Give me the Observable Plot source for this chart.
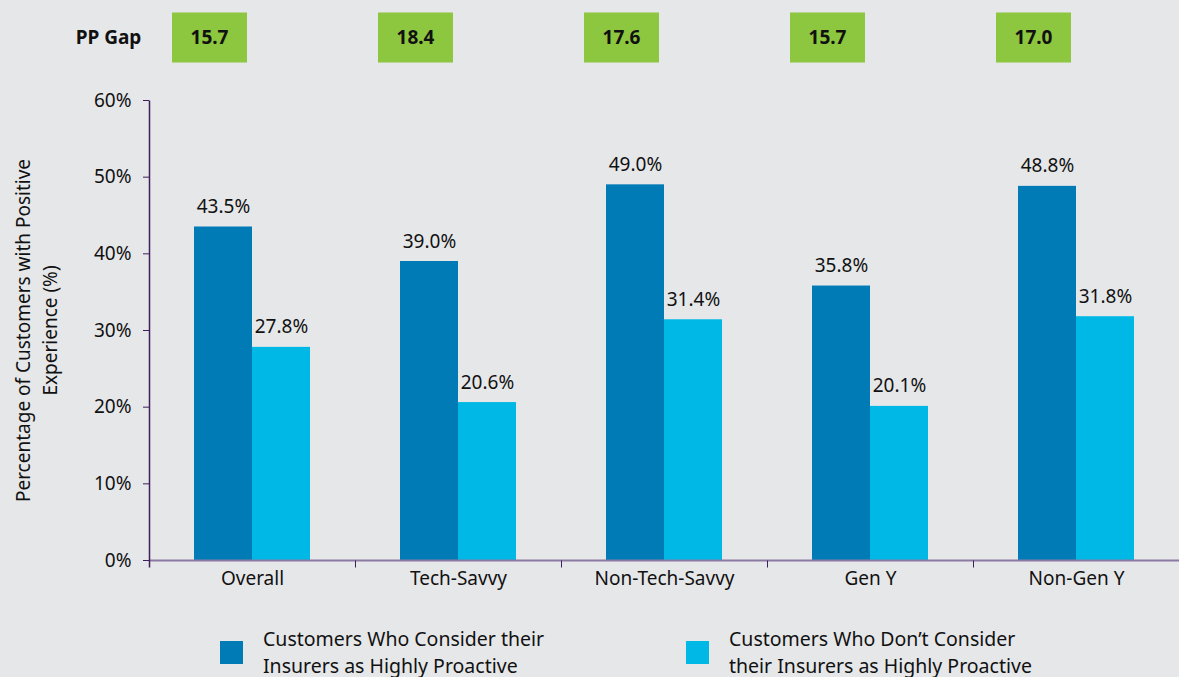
<!DOCTYPE html>
<html>
<head>
<meta charset="utf-8">
<script src="https://cdn.jsdelivr.net/npm/d3@7"></script>
<script src="https://cdn.jsdelivr.net/npm/@observablehq/plot@0.6"></script>
<style>
  html, body { margin: 0; padding: 0; background: #e6e7e9; }
  body { width: 1179px; height: 677px; overflow: hidden; font-family: "Noto Sans", sans-serif; color: #111; }
  #legend { position: relative; height: 67px; }
  .item { position: absolute; top: 15px; display: flex; align-items: center; font-size: 19.5px; line-height: 27px; }
  .sw { width: 23px; height: 23px; margin-right: 20px; }
</style>
</head>
<body>
<div id="chart"></div>
<div id="legend"></div>
<script>
const categories = ["Overall", "Tech-Savvy", "Non-Tech-Savvy", "Gen Y", "Non-Gen Y"];
const seriesNames = [
  "Customers Who Consider their Insurers as Highly Proactive",
  "Customers Who Don\u2019t Consider their Insurers as Highly Proactive"
];
const seriesLines = [
  ["Customers Who Consider their", "Insurers as Highly Proactive"],
  ["Customers Who Don\u2019t Consider", "their Insurers as Highly Proactive"]
];
const proactive = [43.5, 39.0, 49.0, 35.8, 48.8];
const notProactive = [27.8, 20.6, 31.4, 20.1, 31.8];
const ppGap = [15.7, 18.4, 17.6, 15.7, 17.0];
const yTicks = [0, 10, 20, 30, 40, 50, 60];
const colors = ["#007bb6", "#00b8e5"];
const gapLabel = "PP Gap";
const yTitle = "Percentage of Customers with Positive\nExperience (%)";

const rows = categories.flatMap((c, i) => [
  {cat: c, series: seriesNames[0], value: proactive[i]},
  {cat: c, series: seriesNames[1], value: notProactive[i]}
]);
const gaps = categories.map((c, i) => ({cat: c, gap: ppGap[i]}));

const W = 1179, H = 610, MT = 100, MB = 50, ML = 148, MR = 0;
const innerH = H - MT - MB;

const boxSymbol = {draw(ctx) { ctx.rect(-37.5, -25, 75, 50); }};
const sepSymbol = {draw(ctx) { ctx.moveTo(0, 0); ctx.lineTo(0, 7); }};
const yLineSymbol = {draw(ctx) { ctx.moveTo(0, 7); ctx.lineTo(0, -innerH); }};

const chart = Plot.plot({
  width: W, height: H,
  marginTop: MT, marginBottom: MB, marginLeft: ML, marginRight: MR,
  style: {fontFamily: "'Noto Sans', sans-serif", background: "transparent", color: "#111"},
  fx: {domain: categories, padding: 0, label: null},
  x: {domain: seriesNames, paddingInner: 0, paddingOuter: 0.75, axis: null},
  y: {domain: [0, 60], label: null},
  color: {domain: seriesNames, range: colors},
  marks: [
    Plot.barY(rows, {fx: "cat", x: "series", y: "value", fill: "series"}),
    Plot.text(rows, {fx: "cat", x: "series", y: "value", text: d => d.value.toFixed(1) + "%", dy: -20, fontSize: 19, fill: "#111"}),
    Plot.ruleY([0], {stroke: "#8b7aa3", strokeWidth: 2}),
    Plot.dot(categories.slice(0, -1), {fx: d => d, frameAnchor: "bottom-right", symbol: sepSymbol, fill: "none", stroke: "#3c1f5c", strokeWidth: 1}),
    Plot.dot(categories.slice(0, 1), {fx: d => d, frameAnchor: "bottom-left", symbol: yLineSymbol, fill: "none", stroke: "#3c1f5c", strokeWidth: 1.5}),
    Plot.axisY({ticks: yTicks, tickFormat: d => d + "%", tickSize: 6, tickPadding: 12, fontSize: 19, stroke: "#3c1f5c", fill: "#111", label: null}),
    Plot.axisFx({anchor: "bottom", tickSize: 0, tickPadding: 11, fontSize: 19, fill: "#111", label: null}),
    Plot.text(categories.slice(0, 1), {fx: d => d, frameAnchor: "left", textAnchor: "middle", lineAnchor: "middle", rotate: -90, dx: -115, text: () => yTitle, fontSize: 19, lineHeight: 1.42, fill: "#111"}),
    Plot.dot(gaps, {fx: "cat", frameAnchor: "top-left", dx: 60, dy: -63, symbol: boxSymbol, fill: "#8dc63f", stroke: "none"}),
    Plot.text(gaps, {fx: "cat", frameAnchor: "top-left", textAnchor: "middle", lineAnchor: "middle", dx: 60, dy: -63, text: d => d.gap.toFixed(1), fontSize: 19, fontWeight: "bold", fill: "#111"}),
    Plot.text(categories.slice(0, 1), {fx: d => d, frameAnchor: "top-left", textAnchor: "middle", lineAnchor: "middle", dx: -41, dy: -63, text: () => gapLabel, fontSize: 19, fontWeight: "bold", fill: "#111"})
  ]
});
document.getElementById("chart").appendChild(chart);

const legend = document.getElementById("legend");
const lefts = [220, 686];
seriesNames.forEach((s, i) => {
  const item = document.createElement("div");
  item.className = "item";
  item.style.left = lefts[i] + "px";
  const sw = document.createElement("div");
  sw.className = "sw";
  sw.style.background = colors[i];
  const t = document.createElement("div");
  t.innerHTML = seriesLines[i].join("<br>");
  item.appendChild(sw);
  item.appendChild(t);
  legend.appendChild(item);
});
</script>
</body>
</html>
